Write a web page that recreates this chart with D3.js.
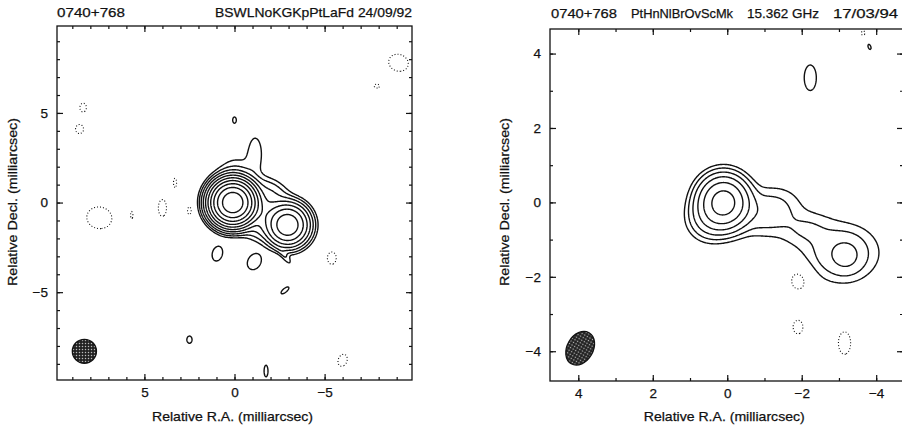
<!DOCTYPE html>
<html lang="en">
<head>
<meta charset="UTF-8">
<script src="https://d3js.org/d3.v7.min.js"></script>
<style>
body { margin: 0; background: #fff; }
svg text { font-family: "Liberation Sans", Arial, sans-serif; font-size: 13.5px; fill: #111; stroke: #111; stroke-width: 0.25; }
.frame { fill: none; stroke: #111; stroke-width: 1.3; }
.axis line { stroke: #111; stroke-width: 1.2; }
.axis path { display: none; }
.pos { fill: none; stroke: #111; stroke-width: 1.4; stroke-linejoin: round; }
.neg { fill: none; stroke: #111; stroke-width: 1.1; stroke-dasharray: 1 2; }
.beam { stroke: #111; stroke-width: 1.3; }
</style>
</head>
<body>
<svg id="chart" width="902" height="428"></svg>
<script>
// source model: [RA, Dec, peak (x lowest level), sigma major, sigma minor, PA deg]
const leftComponents = [
  [0.1, 0.0, 900, 0.53, 0.53, 0],      // core
  [-2.95, -1.25, 110, 0.55, 0.55, 0],  // jet knot
  [-1.5, -0.5, 9, 0.75, 0.6, 70],      // emission between core and knot
  [-2.0, 0.6, 3, 0.7, 0.45, 60],
  [-0.1, 1.4, 2, 0.7, 0.8, 90],
  [-1.15, 2.8, 1.6, 0.8, 0.33, 0],     // northern finger
  [-1.4, -1.5, 2, 0.6, 0.45, 90],
  [-2.8, -3.0, 1.5, 0.45, 0.13, 36],
  [0.95, -2.85, 1.6, 0.43, 0.29, -15],
  [-1.1, -3.3, 1.6, 0.48, 0.37, -30],
  [-2.8, -4.9, 1.5, 0.3, 0.12, -50],
  [0.0, 4.6, 1.3, 0.24, 0.14, 0],
  [2.5, -7.65, 1.3, 0.28, 0.2, 0],
  [-1.75, -9.4, 1.3, 0.45, 0.15, 0],
  // negative noise
  [-9.1, 7.8, -1.6, 0.57, 0.48, 70],
  [-7.9, 6.5, -1.3, 0.2, 0.15, 90],
  [8.4, 5.3, -1.4, 0.3, 0.22, 0],
  [8.6, 4.1, -1.4, 0.31, 0.27, 0],
  [3.3, 1.1, -1.3, 0.35, 0.12, 0],
  [4.0, -0.3, -1.5, 0.52, 0.25, 0],
  [2.5, -0.45, -1.3, 0.3, 0.15, 0],
  [7.5, -0.85, -1.6, 0.72, 0.62, 80],
  [5.7, -0.7, -1.3, 0.25, 0.08, 0],
  [-5.4, -3.1, -1.4, 0.42, 0.3, 0],
  [-6.0, -8.8, -1.4, 0.42, 0.3, -20]
];
const rightComponents = [
  [0.1, 0.0, 45, 0.37, 0.35, 0],       // core
  [0.5, -0.45, 4, 0.35, 0.35, 0],
  [-1.1, -0.25, 3.2, 0.55, 0.4, 105],
  [-2.1, -0.7, 1.6, 0.45, 0.3, 100],
  [-3.05, -1.35, 3.4, 0.65, 0.5, 90],  // jet knot
  [-3.2, -1.45, 2.2, 0.3, 0.28, 0],
  [-2.23, 3.35, 1.5, 0.38, 0.18, 0],
  [-3.82, 4.18, 1.2, 0.12, 0.06, 20],
  // negative noise
  [-1.93, -2.07, -1.5, 0.33, 0.27, 0],
  [-1.9, -3.35, -1.4, 0.22, 0.16, 0],
  [-3.15, -3.78, -1.45, 0.35, 0.19, 0],
  [-3.65, 4.55, -1.2, 0.1, 0.08, 0]
];
const leftLevels = [-1, 1, 2, 4, 8, 16, 32, 64, 128, 256, 512];
const rightLevels = [-1, 1, 2, 4, 8, 16, 32];

const leftMajor = [-5, 0, 5];
const leftMinor = [-9, -8, -7, -6, -5, -4, -3, -2, -1, 0, 1, 2, 3, 4, 5, 6, 7, 8, 9];
const rightMajor = [-4, -2, 0, 2, 4];
const rightMinor = [-4, -3, -2, -1, 0, 1, 2, 3, 4];

// restoring beams: [RA, Dec, semi-major, semi-minor, tilt deg]
const leftBeam = [8.33, -8.3, 0.67, 0.67, 0];
const rightBeam = [3.95, -3.92, 0.48, 0.35, 30];

const leftTitle = ['0740+768', 'BSWLNoKGKpPtLaFd 24/09/92'];
const rightTitle = ['0740+768', 'PtHnNlBrOvScMk', '15.362 GHz', '17/03/94'];
const xLabel = 'Relative R.A. (milliarcsec)';
const yLabel = 'Relative Decl. (milliarcsec)';

const svg = d3.select('#chart');
const defs = svg.append('defs');
const pat = defs.append('pattern').attr('id', 'hatch')
  .attr('width', 3).attr('height', 3).attr('patternUnits', 'userSpaceOnUse');
pat.append('rect').attr('width', 3).attr('height', 3).attr('fill', '#222');
pat.append('circle').attr('cx', 1.5).attr('cy', 1.5).attr('r', 0.75).attr('fill', '#bbb');

function field(comps, x, y) {
  let s = 0;
  for (const [cx, cy, a, sa, sb, pa] of comps) {
    const t = pa * Math.PI / 180, dx = x - cx, dy = y - cy;
    const u = dx * Math.sin(t) + dy * Math.cos(t);
    const v = dx * Math.cos(t) - dy * Math.sin(t);
    s += a * Math.exp(-0.5 * (u * u / (sa * sa) + v * v / (sb * sb)));
  }
  return s;
}

function drawPanel(p) {
  const x = p.x, y = p.y;
  const [r0, r1] = x.range(), [b0, t0] = y.range();
  const g = svg.append('g');

  defs.append('clipPath').attr('id', p.id)
    .append('rect').attr('x', r0).attr('y', t0).attr('width', r1 - r0).attr('height', b0 - t0);

  // sample the model on a grid a bit larger than the frame
  const step = p.step;
  const xs = x.domain()[0] + 0.4, ys = y.domain()[1] + 0.4;
  const nx = Math.ceil((x.domain()[0] - x.domain()[1] + 0.8) / step);
  const ny = Math.ceil((y.domain()[1] - y.domain()[0] + 0.8) / step);
  const vals = new Float64Array(nx * ny);
  for (let j = 0; j < ny; j++)
    for (let i = 0; i < nx; i++)
      vals[j * nx + i] = field(p.comps, xs - i * step, ys - j * step);

  const proj = d3.geoTransform({
    point(px, py) { this.stream.point(x(xs - (px - 0.5) * step), y(ys - (py - 0.5) * step)); }
  });
  const path = d3.geoPath(proj);

  const pos = p.levels.filter(l => l > 0);
  const neg = p.levels.filter(l => l < 0).map(l => -l);
  const cg = g.append('g').attr('clip-path', 'url(#' + p.id + ')');
  cg.selectAll('.pos')
    .data(d3.contours().size([nx, ny]).thresholds(pos)(vals))
    .enter().append('path').attr('class', 'pos').attr('d', path);
  cg.selectAll('.neg')
    .data(d3.contours().size([nx, ny]).thresholds(neg)(vals.map(v => -v)))
    .enter().append('path').attr('class', 'neg').attr('d', path);

  // beam
  const [bx, by, bmaj, bmin, tilt] = p.beam;
  g.append('ellipse').attr('class', 'beam')
    .attr('cx', x(bx)).attr('cy', y(by))
    .attr('rx', Math.abs(x(bmin) - x(0))).attr('ry', Math.abs(y(bmaj) - y(0)))
    .attr('transform', 'rotate(' + tilt + ',' + x(bx) + ',' + y(by) + ')')
    .attr('fill', 'url(#hatch)');

  // axes, ticks pointing inwards on all four sides
  const fmt = d3.format('d');
  g.append('g').attr('class', 'axis').attr('transform', 'translate(0,' + b0 + ')')
    .call(d3.axisBottom(x).tickValues(p.minor).tickSize(-3).tickFormat(''));
  g.append('g').attr('class', 'axis').attr('transform', 'translate(0,' + b0 + ')')
    .call(d3.axisBottom(x).tickValues(p.major).tickSize(-6).tickPadding(7).tickFormat(fmt));
  g.append('g').attr('class', 'axis').attr('transform', 'translate(0,' + t0 + ')')
    .call(d3.axisTop(x).tickValues(p.minor).tickSize(-3).tickFormat(''));
  g.append('g').attr('class', 'axis').attr('transform', 'translate(0,' + t0 + ')')
    .call(d3.axisTop(x).tickValues(p.major).tickSize(-6).tickFormat(''));
  g.append('g').attr('class', 'axis').attr('transform', 'translate(' + r0 + ',0)')
    .call(d3.axisLeft(y).tickValues(p.minor).tickSize(-3).tickFormat(''));
  g.append('g').attr('class', 'axis').attr('transform', 'translate(' + r0 + ',0)')
    .call(d3.axisLeft(y).tickValues(p.major).tickSize(-6).tickPadding(p.yPad).tickFormat(fmt));
  g.append('g').attr('class', 'axis').attr('transform', 'translate(' + r1 + ',0)')
    .call(d3.axisRight(y).tickValues(p.minor).tickSize(-3).tickFormat(''));
  g.append('g').attr('class', 'axis').attr('transform', 'translate(' + r1 + ',0)')
    .call(d3.axisRight(y).tickValues(p.major).tickSize(-6).tickFormat(''));
  g.selectAll('.axis text').style('font-size', '13.5px').style('font-family', '"Liberation Sans", Arial, sans-serif');

  g.append('rect').attr('class', 'frame')
    .attr('x', r0).attr('y', t0).attr('width', r1 - r0).attr('height', b0 - t0);

  // titles and axis labels
  p.title.forEach((t, i) => {
    g.append('text').attr('x', p.titleX[i]).attr('y', p.titleY)
      .attr('textLength', p.titleW[i]).attr('lengthAdjust', 'spacingAndGlyphs').text(t);
  });
  g.append('text').attr('x', x(0) + p.xLabelShift).attr('y', 421).attr('text-anchor', 'middle')
    .attr('textLength', 161).attr('lengthAdjust', 'spacingAndGlyphs').text(xLabel);
  g.append('text').attr('transform', 'translate(' + p.yLabelX + ',202) rotate(-90)')
    .attr('text-anchor', 'middle')
    .attr('textLength', 168).attr('lengthAdjust', 'spacingAndGlyphs').text(yLabel);
}

drawPanel({
  id: 'clipL',
  x: d3.scaleLinear().domain([9.85, -9.85]).range([57, 412]),
  y: d3.scaleLinear().domain([-9.9, 9.85]).range([380, 26]),
  comps: leftComponents, levels: leftLevels, step: 0.045,
  major: leftMajor, minor: leftMinor, beam: leftBeam, yPad: 9,
  title: leftTitle, titleX: [57, 215], titleW: [68, 197], titleY: 17,
  xLabelShift: -2, yLabelX: 17
});

drawPanel({
  id: 'clipR',
  x: d3.scaleLinear().domain([4.76, -4.72]).range([550, 903]),
  y: d3.scaleLinear().domain([-4.8, 4.66]).range([381, 29]),
  comps: rightComponents, levels: rightLevels, step: 0.022,
  major: rightMajor, minor: rightMinor, beam: rightBeam, yPad: 9,
  title: rightTitle, titleX: [551, 631, 747, 833], titleW: [66, 102, 72, 65], titleY: 18,
  xLabelShift: -3, yLabelX: 509
});
</script>
</body>
</html>
